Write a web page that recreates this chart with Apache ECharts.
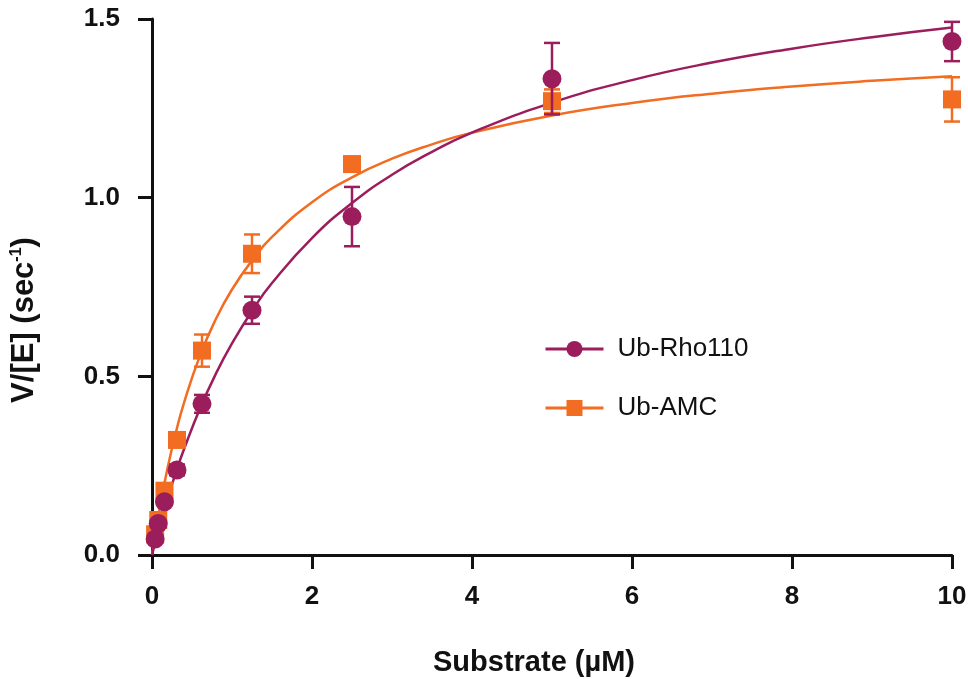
<!DOCTYPE html>
<html lang="en">
<head>
<meta charset="UTF-8">
<title>Ub-Rho110 vs Ub-AMC</title>
<script src="https://cdn.jsdelivr.net/npm/echarts@6/dist/echarts.min.js"></script>
<style>
  html, body { margin: 0; padding: 0; background: #fff; }
  #chart { width: 968px; height: 679px; }
</style>
</head>
<body>
<div id="chart"></div>
<script>
// substrate concentrations (uM)
var conc = [0.039, 0.078, 0.156, 0.3125, 0.625, 1.25, 2.5, 5, 10];

// measured V/[E] with error (half bar length)
var rhoMean = [0.045, 0.088, 0.149, 0.238, 0.423, 0.685, 0.947, 1.333, 1.437];
var rhoErr  = [0.010, 0.010, 0.010, 0.015, 0.025, 0.038, 0.083, 0.100, 0.055];
var amcMean = [0.058, 0.098, 0.180, 0.322, 0.572, 0.843, 1.094, 1.270, 1.275];
var amcErr  = [0.010, 0.010, 0.012, 0.015, 0.045, 0.054, 0.020, 0.033, 0.062];

// fitted curves
var fitX   = [0, 0.1, 0.2, 0.3, 0.4, 0.6, 0.8, 1.0, 1.25, 1.5, 2, 2.5, 3, 3.5, 4, 5, 6, 7, 8, 9, 10];
var rhoFit = [0, 0.085, 0.162, 0.232, 0.296, 0.410, 0.508, 0.592, 0.683, 0.761, 0.887, 0.985, 1.064, 1.128, 1.182, 1.266, 1.329, 1.378, 1.417, 1.449, 1.476];
var amcFit = [0, 0.136, 0.249, 0.344, 0.426, 0.558, 0.661, 0.743, 0.824, 0.890, 0.987, 1.057, 1.109, 1.149, 1.182, 1.230, 1.265, 1.291, 1.311, 1.327, 1.340];

var yTicks = ['0.0', '0.5', '1.0', '1.5'];

var rhoColor = '#9b1d5c';
var amcColor = '#f26c22';
var font = 'Liberation Sans, Arial, Helvetica, sans-serif';

function zip(xs, ys, es) {
    return xs.map(function (x, i) { return es ? [x, ys[i], es[i]] : [x, ys[i]]; });
}

function errorBars(color) {
    return function (params, api) {
        var x = api.value(0), y = api.value(1), e = api.value(2);
        var top = api.coord([x, y + e]);
        var bot = api.coord([x, y - e]);
        var hw = 8;
        var st = { stroke: color, lineWidth: 2.5 };
        return {
            type: 'group',
            children: [
                { type: 'line', shape: { x1: top[0], y1: top[1], x2: bot[0], y2: bot[1] }, style: st },
                { type: 'line', shape: { x1: top[0] - hw, y1: top[1], x2: top[0] + hw, y2: top[1] }, style: st },
                { type: 'line', shape: { x1: bot[0] - hw, y1: bot[1], x2: bot[0] + hw, y2: bot[1] }, style: st }
            ]
        };
    };
}

var myChart = echarts.init(document.getElementById('chart'));
var option = {
    animation: false,
    backgroundColor: '#fff',
    grid: { left: 152, right: 16, top: 19, bottom: 124, outerBoundsMode: 'none' },
    legend: {
        data: ['Ub-Rho110', 'Ub-AMC'],
        orient: 'vertical',
        left: 539,
        top: 331,
        itemWidth: 58,
        itemHeight: 20,
        itemGap: 33,
        lineStyle: { width: 3 },
        textStyle: { fontFamily: font, fontSize: 26, color: '#111', padding: [0, 0, 0, 9] }
    },
    xAxis: {
        type: 'value',
        min: 0, max: 10, interval: 2,
        name: 'Substrate (µM)',
        nameLocation: 'middle',
        nameGap: 93,
        nameTextStyle: { fontFamily: font, fontSize: 29, fontWeight: 'bold', color: '#111', padding: [0, 36, 0, 0] },
        axisLine: { onZero: false, lineStyle: { color: '#111', width: 3 } },
        axisTick: { length: 14, lineStyle: { color: '#111', width: 3 } },
        axisLabel: { margin: 29, fontFamily: font, fontSize: 26, fontWeight: 'bold', color: '#111' },
        splitLine: { show: false }
    },
    yAxis: {
        type: 'value',
        min: 0, max: 1.5, interval: 0.5,
        name: '{a|V/[E] (sec}{s|-1}{a|)}',
        nameLocation: 'middle',
        nameGap: 112,
        nameTextStyle: {
            padding: [0, 66, 0, 0],
            rich: {
                a: { fontFamily: font, fontSize: 31, fontWeight: 'bold', color: '#111' },
                s: { fontFamily: font, fontSize: 16, fontWeight: 'bold', color: '#111', verticalAlign: 'top', padding: [0, 0, 12, 0] }
            }
        },
        axisLine: { lineStyle: { color: '#111', width: 3 } },
        axisTick: { length: 14, lineStyle: { color: '#111', width: 3 } },
        axisLabel: {
            margin: 32, fontFamily: font, fontSize: 26, fontWeight: 'bold', color: '#111',
            formatter: function (v) { return yTicks[Math.round(v / 0.5)]; }
        },
        splitLine: { show: false }
    },
    series: [
        {
            name: 'Ub-AMC', type: 'line', data: zip(fitX, amcFit), smooth: true,
            symbol: 'rect', symbolSize: 18, showSymbol: false,
            itemStyle: { color: amcColor },
            lineStyle: { color: amcColor, width: 2.5 }, z: 2
        },
        {
            name: 'Ub-Rho110', type: 'line', data: zip(fitX, rhoFit), smooth: true,
            symbol: 'circle', symbolSize: 20, showSymbol: false,
            itemStyle: { color: rhoColor },
            lineStyle: { color: rhoColor, width: 2.5 }, z: 3
        },
        {
            name: 'amcErr', type: 'custom', renderItem: errorBars(amcColor),
            data: zip(conc, amcMean, amcErr), z: 4
        },
        {
            name: 'amcPts', type: 'scatter', symbol: 'rect', symbolSize: 18,
            itemStyle: { color: amcColor, opacity: 1 }, data: zip(conc, amcMean), z: 5
        },
        {
            name: 'rhoErr', type: 'custom', renderItem: errorBars(rhoColor),
            data: zip(conc, rhoMean, rhoErr), z: 6
        },
        {
            name: 'rhoPts', type: 'scatter', symbol: 'circle', symbolSize: 19,
            itemStyle: { color: rhoColor, opacity: 1 }, data: zip(conc, rhoMean), z: 7
        }
    ]
};
myChart.setOption(option);
</script>
</body>
</html>
